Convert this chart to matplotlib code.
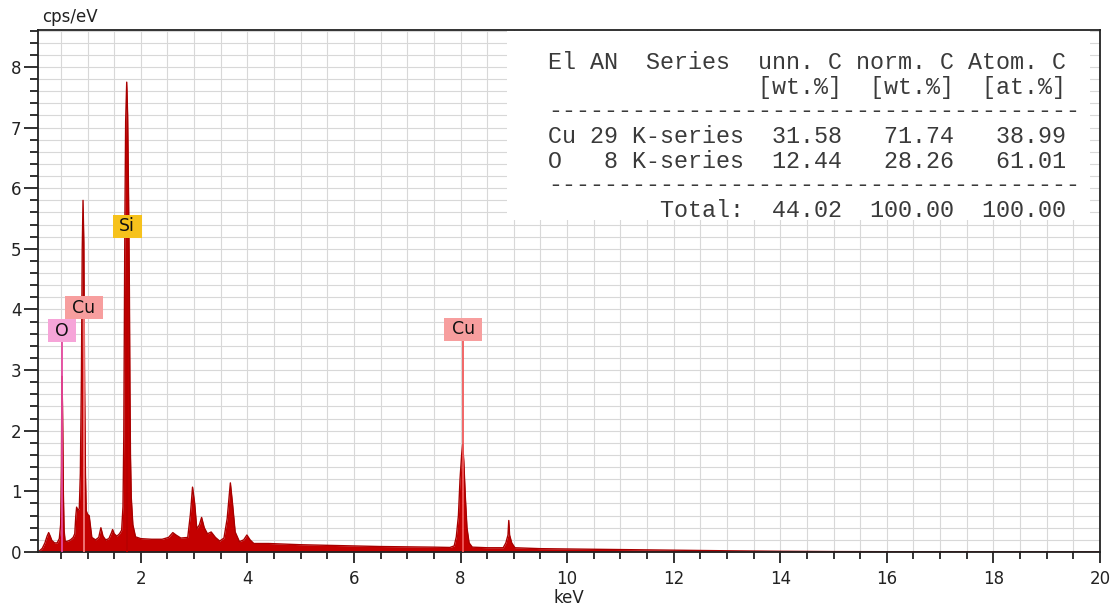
import matplotlib
matplotlib.use('Agg')
import matplotlib.pyplot as plt
import matplotlib.transforms as mtransforms
from matplotlib.patches import Rectangle
from matplotlib.ticker import MultipleLocator

# ---------------- data ----------------
energy_kev = [0.10, 0.15, 0.20, 0.24, 0.27, 0.30, 0.33, 0.38, 0.43, 0.47,
              0.495, 0.51, 0.518, 0.53, 0.545, 0.56, 0.58, 0.63, 0.68, 0.73,
              0.76, 0.78, 0.795, 0.82, 0.845, 0.865, 0.885, 0.90, 0.915, 0.93,
              0.945, 0.96, 0.975, 1.00, 1.03, 1.05, 1.08, 1.15, 1.21, 1.25,
              1.29, 1.34, 1.40, 1.45, 1.47, 1.50, 1.55, 1.60, 1.64, 1.665,
              1.68, 1.69, 1.70, 1.715, 1.735, 1.752, 1.77, 1.785, 1.795, 1.805,
              1.82, 1.85, 1.90, 2.0, 2.2, 2.4, 2.52, 2.60, 2.66, 2.75, 2.88,
              2.93, 2.97, 3.01, 3.05, 3.10, 3.14, 3.19, 3.25, 3.32, 3.40,
              3.48, 3.56, 3.62, 3.68, 3.72, 3.77, 3.85, 3.93, 3.99, 4.05,
              4.12, 4.4, 5.0, 5.5, 6.0, 6.5, 7.0, 7.5, 7.8, 7.88,
              7.92, 7.96, 7.99, 8.02, 8.04, 8.06, 8.09, 8.12, 8.16, 8.22,
              8.5, 8.8, 8.85, 8.89, 8.905, 8.92, 8.96, 9.02, 9.5, 10.0,
              11.0, 12.0, 13.0, 14.0, 15.0, 16.0, 18.0, 20.0]
counts_cps = [0.02, 0.06, 0.15, 0.26, 0.32, 0.26, 0.19, 0.15, 0.15, 0.22,
              0.45, 1.4, 2.9, 2.4, 1.0, 0.35, 0.17, 0.18, 0.20, 0.24,
              0.30, 0.60, 0.74, 0.68, 0.72, 1.3, 2.9, 5.0, 5.8, 5.1,
              2.7, 1.3, 0.68, 0.62, 0.60, 0.45, 0.24, 0.20, 0.24, 0.40,
              0.26, 0.20, 0.22, 0.32, 0.37, 0.30, 0.26, 0.30, 0.36, 0.75,
              1.9, 3.6, 5.4, 7.1, 7.75, 7.2, 5.8, 4.3, 2.7, 1.6,
              0.9, 0.45, 0.25, 0.22, 0.21, 0.21, 0.24, 0.32, 0.28, 0.23, 0.24,
              0.62, 1.07, 0.80, 0.38, 0.45, 0.57, 0.40, 0.30, 0.33, 0.24,
              0.18, 0.23, 0.55, 1.14, 0.80, 0.33, 0.17, 0.20, 0.28, 0.20,
              0.14, 0.14, 0.12, 0.11, 0.10, 0.09, 0.085, 0.08, 0.075, 0.10,
              0.25, 0.60, 1.2, 1.6, 1.78, 1.5, 0.9, 0.4, 0.15, 0.08,
              0.07, 0.07, 0.15, 0.28, 0.52, 0.28, 0.15, 0.07, 0.055, 0.05,
              0.04, 0.03, 0.02, 0.012, 0.007, 0.005, 0.003, 0.002]

peak_elements = ['O', 'Cu', 'Si', 'Cu']
peak_energies = [0.523, 0.925, 1.745, 8.05]
label_heights = [3.65, 4.03, 5.37, 3.67]
label_box_colors = ['#f6a4d8', '#f79e9e', '#f6c21c', '#f79e9e']
label_line_colors = ['#e4489e', '#f27a7a', '#b80000', '#f05a5a']

table_elements = ['Cu', 'O']
table_an = [29, 8]
table_series = ['K-series', 'K-series']
table_unn = [31.58, 12.44]
table_norm = [71.74, 28.26]
table_atom = [38.99, 61.01]
table_total = [44.02, 100.00, 100.00]

x_ticks = [2, 4, 6, 8, 10, 12, 14, 16, 18, 20]
y_ticks = [0, 1, 2, 3, 4, 5, 6, 7, 8]

# ---------------- figure ----------------
W, H = 1110, 608
fig = plt.figure(figsize=(W / 100, H / 100), dpi=100)
fig.patch.set_facecolor('white')
ax = fig.add_axes([38 / W, 1 - 552 / H, 1062 / W, 522 / H])

ax.set_xlim(0.07, 20)
ax.set_ylim(0, 8.61)
ax.set_axisbelow(True)

ax.fill_between(energy_kev, counts_cps, 0, color='#c40000', lw=0, zorder=2)
ax.plot(energy_kev, counts_cps, color='#a80000', lw=1.0, zorder=2.5)

# element markers
dpi_trans = fig.dpi_scale_trans
box_w = {'O': 28, 'Cu': 38, 'Si': 29}
for el, e, h, bc, lc in zip(peak_elements, peak_energies, label_heights,
                            label_box_colors, label_line_colors):
    bw = box_w[el] / 100.0
    bh = 23 / 100.0
    trans = dpi_trans + mtransforms.ScaledTranslation(e, h, ax.transData)
    ax.plot([e, e], [0, h], color=lc, lw=1.3, zorder=3, solid_capstyle='butt')
    rect = Rectangle((-bw / 2, -bh / 2), bw, bh, transform=trans,
                     facecolor=bc, edgecolor='none', zorder=4, clip_on=False)
    ax.add_patch(rect)
    ax.text(e, h, el, ha='center', va='center', fontsize=12.5, color='#111111',
            zorder=5, family='DejaVu Sans')

# ticks and grid
ax.set_xticks(x_ticks)
ax.set_yticks(y_ticks)
ax.xaxis.set_minor_locator(MultipleLocator(0.5))
ax.yaxis.set_minor_locator(MultipleLocator(0.2))
ax.grid(which='both', color='#d8d8d8', lw=0.8)
ax.tick_params(axis='y', which='major', direction='out', length=10, width=1.3,
               pad=2, labelsize=12, colors='#222222')
ax.tick_params(axis='y', which='minor', direction='out', length=6, width=1.3,
               colors='#222222')
ax.tick_params(axis='x', which='major', direction='out', length=8, width=1.3,
               pad=5, labelsize=12, colors='#222222')
ax.tick_params(axis='x', which='minor', direction='out', length=5, width=1.3,
               colors='#222222')
for sp in ax.spines.values():
    sp.set_color('#222222')
    sp.set_linewidth(1.3)

ax.set_xlabel('keV', fontsize=12, labelpad=1, color='#222222')
fig.text(42 / W, 1 - 17 / H, 'cps/eV', fontsize=12, ha='left', va='center',
         color='#222222')

# results table
ax.add_patch(Rectangle(((507 - 38) / 1062, (552 - 220) / 522),
                       (1090 - 507) / 1062, (220 - 31) / 522,
                       transform=ax.transAxes, facecolor='white',
                       edgecolor='none', zorder=2.2))

lines = []
lines.append(('El AN  Series  unn. C norm. C Atom. C', 62, 6.7))
lines.append((' ' * 15 + '[wt.%]  [wt.%]  [at.%]', 87, 6.7))
lines.append(('-' * 38, 111, 6.3))
row_y = [136, 161]
for el, an, se, u, n, a, yy in zip(table_elements, table_an, table_series,
                                   table_unn, table_norm, table_atom, row_y):
    s = f'{el:<2} {an:>2} {se:<8}  {u:5.2f}   {n:5.2f}   {a:5.2f}'
    lines.append((s, yy, 6.7))
lines.append(('-' * 38, 185, 6.3))
lines.append((' ' * 8 + 'Total:  ' + f'{table_total[0]:5.2f}  '
              + f'{table_total[1]:6.2f}  ' + f'{table_total[2]:6.2f}', 210, 6.7))
for s, yc, off in lines:
    fig.text(548 / W, 1 - (yc + off) / H, s, family='Liberation Mono',
             fontsize=16.8, ha='left', va='baseline', color='#3a3a3a',
             zorder=6)

fig.savefig('out.png', dpi=100, facecolor='white')
